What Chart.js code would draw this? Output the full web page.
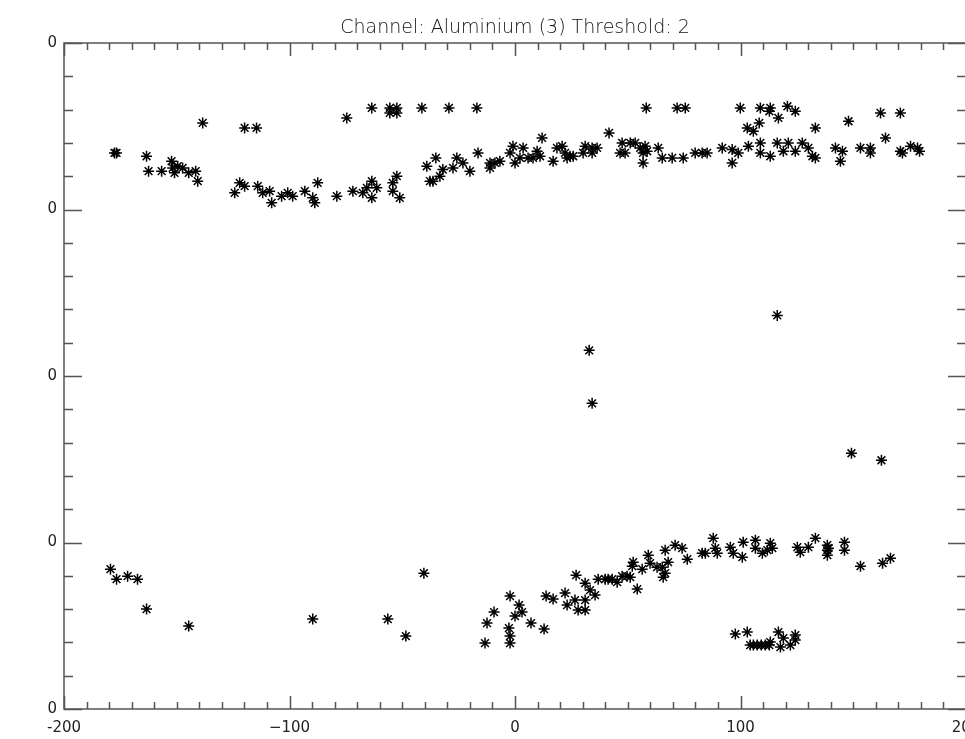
<!DOCTYPE html>
<html>
<head>
<meta charset="utf-8">
<script src="https://cdn.jsdelivr.net/npm/chart.js@4"></script>
<style>
  html, body { margin: 0; padding: 0; background: #fff; overflow: hidden; }
  #plot { display: block; }
</style>
</head>
<body>
<canvas id="plot" width="1000" height="739"></canvas>
<script>
// axis setup
const xMin = -200, xMax = 200, xMajorStep = 100, xMinorStep = 10;
const yMin = 0, yMax = 400, yMajorStep = 100, yMinorStep = 20;
const titleText = "Channel: Aluminium (3) Threshold: 2";

// upper band of points
const upperX = [
  -138.5, -119.9, -114.6, -74.6, -63.5, -55.5, -52.4, -55.5, -52.4, -41.3, -29.3, -16.9,
  58.2, 71.9, 75.5, 99.9, 108.8, 113.2, 112.8, 116.8, 120.8, 124.3, 103, 105.7, 108.3,
  133.2, 147.9, 162.1, 170.9, 164.3, 41.7, 12,
  -177.6, -176.7, -163.4, -162.5, -156.7, -152.3, -151.8, -151, -149.6, -147.4, -144.7,
  -141.6, -140.7, -124.3, -122.1, -119.9, -114.1, -111.9, -108.8, -107.9, -103.5, -100.8,
  -98.6, -93.2, -89.7, -88.8, -87.5, -79, -71.9, -67.5, -65.7, -63.5, -61.3, -63.5, -54.2,
  -52.4, -54.2, -51.1,
  -39.1, -35.1, -32, -37.7, -36.4, -33.3, -27.5, -25.8, -23.1, -20, -16.4, -11.1, -11.1,
  -8.9, -6.7, -2.2, -0.9, 0, 3.6, 2.2, 5.8, 8, 9.8, 11.1, 16.9, 18.6, 20.9, 22.2, 24.4,
  25.8, 23.1, 30.2, 31.1, 34.2, 36.4, 34.2, 47.5, 46.6, 48.8, 51.1, 53.3, 55.5, 57.7, 56.8,
  58.6, 56.8, 63.5, 65.3, 69.7, 74.6,
  79.9, 83, 85.2, 91.9, 96.3, 99, 96.3, 103.5, 108.8, 108.8, 113.2, 116.3, 119, 121.2,
  124.3, 127.4, 130.1, 131.9, 133.2, 142.1, 145.2, 144.3, 153.2, 157.6, 157.6, 170.9,
  171.8, 175.4, 178.5, 179.4
];
const upperY = [
  352, 349, 349, 355, 361, 361, 361, 358, 358, 361, 361, 361,
  361, 361, 361, 361, 361, 361, 359, 355, 362, 359, 349, 347, 352,
  349, 353, 358, 358, 343, 346, 343,
  334, 334, 332, 323, 323, 329, 325, 322, 326, 325, 322,
  323, 317, 310, 316, 314, 314, 310, 311, 304, 308, 310,
  308, 311, 307, 304, 316, 308, 311, 310, 313, 317, 313, 307, 316,
  320, 311, 307,
  326, 331, 324, 317, 317, 320, 325, 331, 328, 323, 334, 328, 325,
  328, 329, 334, 338, 328, 337, 331, 331, 331, 335, 332, 329, 337, 338, 334, 332,
  332, 331, 334, 338, 337, 337, 334, 340, 334, 334, 340, 340, 337, 338, 334,
  335, 328, 337, 331, 331, 331,
  334, 334, 334, 337, 336, 334, 328, 338, 340, 334, 332, 340, 335, 340,
  335, 340, 337, 332, 331, 337, 335, 329, 337, 337, 334, 335,
  334, 338, 337, 335
];

// isolated points between the bands
const middleX = [116.3, 32.9, 34.2, 149.2, 162.5];
const middleY = [236.4, 215.4, 183.6, 153.6, 149.4];

// lower band of points
const lowerX = [
  -179.4, -176.7, -171.8, -167.4, -163.4, -144.7, -89.7, -56.4, -48.4, -40.4,
  -13.3, -12.4, -9.3, -2.2, -2.7, -2.2, -2.2, 0, 1.8, 3.1, 7.1, 12.9, 13.8, 16.9,
  22.2, 23.1, 26.6, 28, 31.1, 31.1, 27.1, 31.1, 33.3, 35.5, 36.9, 40, 41.3, 43.1,
  45.3, 47.5, 49.7, 51.1, 54.2, 52.4, 52, 56.4, 59.1, 59.9, 63, 65.3, 66.6, 65.7,
  67.9, 66.6, 71, 74.1, 76.4, 83, 84.4, 87.9, 88.8, 89.7,
  95.5, 96.8, 100.8, 101.2, 106.6, 106.6, 109.7, 111.9, 113.2, 114.1, 125.2, 126.5,
  130.1, 133.2, 138.5, 138.5, 138.5, 139, 146.1, 146.1, 153.2, 163, 166.5,
  97.7, 103, 104.3, 105.7, 107.4, 109.2, 111, 112.8, 113.2, 116.8, 119, 117.7, 122.1,
  124.3, 124.3
];
const lowerY = [
  84, 78, 79.8, 78, 60, 49.8, 54, 54, 43.8, 81.6,
  39.6, 51.6, 58.2, 67.8, 48.6, 43.8, 39.6, 55.8, 62.4, 58.2, 51.6, 48, 67.8, 66,
  69.6, 62.4, 65.4, 59.4, 59.4, 65.4, 80.4, 75.6, 71.4, 68.4, 78, 78, 78, 78,
  76.2, 79.8, 79.8, 79.2, 72, 88.2, 85.8, 84, 92.4, 87.6, 85.2, 85.2, 81.6, 79.2,
  88.2, 95.4, 98.4, 96.6, 90, 93.6, 93.6, 102.6, 96.6, 93.6,
  97.2, 93.6, 91.2, 100.2, 101.4, 96.6, 93.6, 95.4, 99.6, 96.6, 97.2, 94.2,
  97.2, 102.6, 98.4, 95.4, 92.4, 96.6, 100.2, 95.4, 85.8, 87.6, 90.6,
  45, 46.2, 38.4, 38.4, 38.4, 38.4, 38.4, 38.4, 40.2, 46.2, 42.6, 37.2, 38.4,
  44.4, 41.4
];

function toPoints(xs, ys) {
  let pts = [];
  for (let i = 0; i < xs.length; i++) {
    pts.push({ x: xs[i], y: ys[i] });
  }
  return pts;
}

function starSet(xs, ys) {
  return {
    data: toPoints(xs, ys),
    pointStyle: "star",
    pointRadius: 5.5,
    pointBorderWidth: 1.5,
    borderColor: "#000",
    backgroundColor: "#000",
    showLine: false,
  };
}

// frame with inward ticks on all four sides, IDL style
const frameTicks = {
  id: "frameTicks",
  afterDatasetsDraw: (chart) => {
    const { ctx, chartArea: a, scales } = chart;
    const x = scales.x, y = scales.y;
    ctx.save();
    ctx.strokeStyle = "#555";
    ctx.lineWidth = 1.5;
    ctx.strokeRect(a.left, a.top, a.right - a.left, a.bottom - a.top);
    ctx.beginPath();
    let nx = Math.round((xMax - xMin) / xMinorStep);
    for (let i = 0; i <= nx; i++) {
      let v = xMin + i * xMinorStep;
      let px = Math.round(x.getPixelForValue(v)) + 0.5;
      let len = (v % xMajorStep === 0) ? 13 : 7;
      ctx.moveTo(px, a.bottom); ctx.lineTo(px, a.bottom - len);
      ctx.moveTo(px, a.top); ctx.lineTo(px, a.top + len);
    }
    let ny = Math.round((yMax - yMin) / yMinorStep);
    for (let i = 0; i <= ny; i++) {
      let v = yMin + i * yMinorStep;
      let py = Math.round(y.getPixelForValue(v)) + 0.5;
      let len = (v % yMajorStep === 0) ? 18 : 9;
      ctx.moveTo(a.left, py); ctx.lineTo(a.left + len, py);
      ctx.moveTo(a.right, py); ctx.lineTo(a.right - len, py);
    }
    ctx.stroke();
    ctx.restore();
  },
};

const ctx = document.getElementById("plot");
new Chart(ctx, {
  type: "scatter",
  data: {
    datasets: [
      starSet(upperX, upperY),
      starSet(middleX, middleY),
      starSet(lowerX, lowerY),
    ],
  },
  options: {
    responsive: false,
    animation: false,
    devicePixelRatio: 1,
    layout: { padding: { left: 0, right: 34, top: 0, bottom: 0 } },
    scales: {
      x: {
        type: "linear",
        min: xMin,
        max: xMax,
        grid: { display: false, drawTicks: false },
        border: { display: false },
        ticks: {
          stepSize: xMajorStep,
          padding: 10,
          color: "#222",
          font: { family: "DejaVu Sans", size: 15 },
          maxRotation: 0,
          callback: (v) => (v === -200 ? "-200" : v < 0 ? "\u2212" + Math.abs(v) : String(v)),
        },
        afterFit: (s) => { s.height = 30; },
      },
      y: {
        type: "linear",
        min: yMin,
        max: yMax,
        grid: { display: false, drawTicks: false },
        border: { display: false },
        ticks: {
          stepSize: yMajorStep,
          padding: 7,
          color: "#222",
          font: { family: "DejaVu Sans", size: 15 },
          callback: () => "0",
        },
        afterFit: (s) => { s.width = 64; },
      },
    },
    plugins: {
      legend: { display: false },
      tooltip: { enabled: false },
      title: {
        display: true,
        text: titleText,
        fullSize: false,
        color: "#111",
        font: { family: "DejaVu Sans", size: 19, weight: "300" },
        padding: { top: 16.5, bottom: 3.7 },
      },
    },
  },
  plugins: [frameTicks],
});
</script>
</body>
</html>
